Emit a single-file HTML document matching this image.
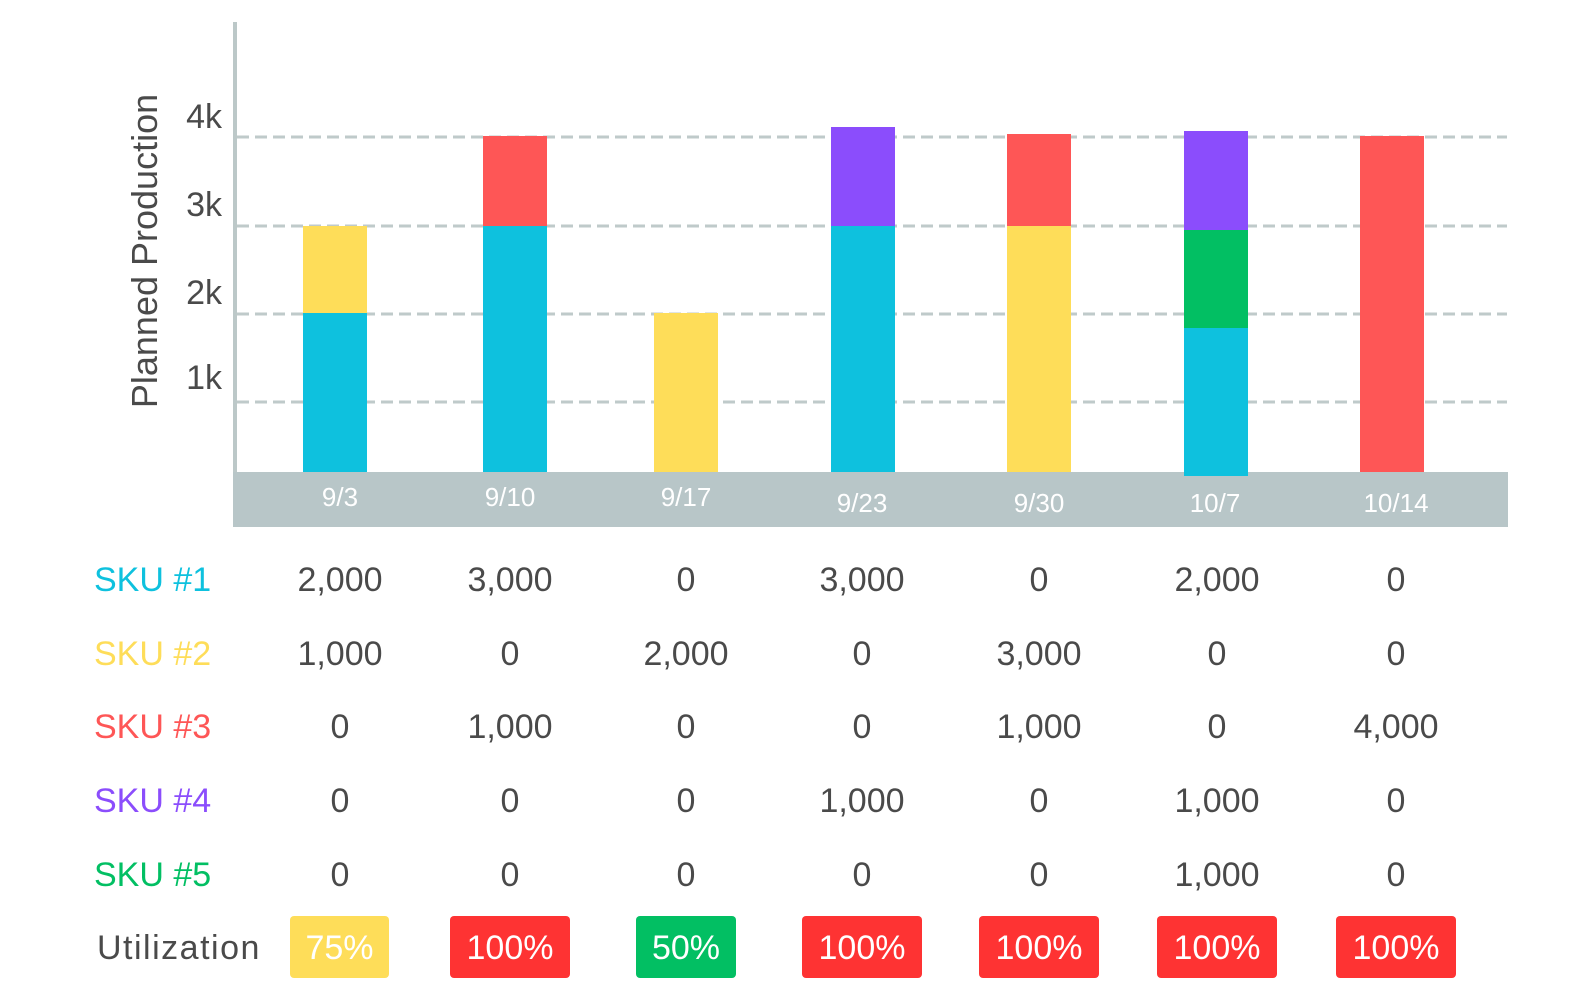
<!DOCTYPE html><html><head><style>
body{margin:0;width:1570px;height:992px;background:#fff;font-family:"Liberation Sans",sans-serif;position:relative;overflow:hidden}
div{position:absolute}
.t{color:#4a4a4a;font-size:34px;transform:translateX(-50%);white-space:nowrap}
.yl{color:#4a4a4a;font-size:34px;right:1348px}
.x{color:#fff;font-size:26px;top:482px;transform:translateX(-50%)}
.b{width:64px}
.s{font-size:34px;left:94px}
.u{height:62px;top:916px;border-radius:4px;color:#fff;font-size:34px;text-align:center;line-height:64px}
</style></head><body>
<div style="left:233px;top:22px;width:4px;height:452px;background:#bcc8c8"></div>
<svg style="position:absolute;left:0;top:0" width="1570" height="992"><g stroke="#bfcaca" stroke-width="3" stroke-dasharray="12 6">
<line x1="237" y1="402" x2="1507" y2="402"/><line x1="237" y1="314" x2="1507" y2="314"/><line x1="237" y1="226" x2="1507" y2="226"/><line x1="237" y1="137" x2="1507" y2="137"/></g></svg>
<div class="yl" style="top:359px">1k</div><div class="yl" style="top:274px">2k</div><div class="yl" style="top:186px">3k</div><div class="yl" style="top:98px">4k</div>
<div style="left:145px;top:251px;transform:translate(-50%,-50%) rotate(-90deg);font-size:36px;color:#4a4a4a;white-space:nowrap">Planned Production</div>
<div style="left:233px;top:472px;width:1275px;height:55px;background:#b8c6c8"></div>
<div class="b" style="left:303px;top:226px;height:88px;background:#fedd59"></div><div class="b" style="left:303px;top:313px;height:159px;background:#0ec1de"></div>
<div class="b" style="left:483px;top:136px;height:90px;background:#fe5656"></div><div class="b" style="left:483px;top:226px;height:246px;background:#0ec1de"></div>
<div class="b" style="left:654px;top:313px;height:159px;background:#fedd59"></div>
<div class="b" style="left:831px;top:127px;height:99px;background:#8b4dfc"></div><div class="b" style="left:831px;top:226px;height:246px;background:#0ec1de"></div>
<div class="b" style="left:1007px;top:134px;height:92px;background:#fe5656"></div><div class="b" style="left:1007px;top:226px;height:246px;background:#fedd59"></div>
<div class="b" style="left:1184px;top:131px;height:99px;background:#8b4dfc"></div><div class="b" style="left:1184px;top:230px;height:98px;background:#02bf63"></div><div class="b" style="left:1184px;top:328px;height:148px;background:#0ec1de"></div>
<div class="b" style="left:1360px;top:136px;height:336px;background:#fe5656"></div>
<div class="x" style="left:340px">9/3</div><div class="x" style="left:510px">9/10</div><div class="x" style="left:686px">9/17</div><div class="x" style="left:862px;top:488px">9/23</div><div class="x" style="left:1039px;top:488px">9/30</div><div class="x" style="left:1215px;top:488px">10/7</div><div class="x" style="left:1396px;top:488px">10/14</div>
<div class="s" style="top:561px;color:#0ec1de">SKU #1</div>
<div class="s" style="top:635px;color:#fedd59">SKU #2</div>
<div class="s" style="top:708px;color:#fe5656">SKU #3</div>
<div class="s" style="top:782px;color:#8b4dfc">SKU #4</div>
<div class="s" style="top:856px;color:#02bf63">SKU #5</div>
<div class="s" style="top:929px;color:#4a4a4a;left:97px;letter-spacing:1.5px">Utilization</div>
<div class="t" style="left:340px;top:561px">2,000</div><div class="t" style="left:510px;top:561px">3,000</div><div class="t" style="left:686px;top:561px">0</div><div class="t" style="left:862px;top:561px">3,000</div><div class="t" style="left:1039px;top:561px">0</div><div class="t" style="left:1217px;top:561px">2,000</div><div class="t" style="left:1396px;top:561px">0</div>
<div class="t" style="left:340px;top:635px">1,000</div><div class="t" style="left:510px;top:635px">0</div><div class="t" style="left:686px;top:635px">2,000</div><div class="t" style="left:862px;top:635px">0</div><div class="t" style="left:1039px;top:635px">3,000</div><div class="t" style="left:1217px;top:635px">0</div><div class="t" style="left:1396px;top:635px">0</div>
<div class="t" style="left:340px;top:708px">0</div><div class="t" style="left:510px;top:708px">1,000</div><div class="t" style="left:686px;top:708px">0</div><div class="t" style="left:862px;top:708px">0</div><div class="t" style="left:1039px;top:708px">1,000</div><div class="t" style="left:1217px;top:708px">0</div><div class="t" style="left:1396px;top:708px">4,000</div>
<div class="t" style="left:340px;top:782px">0</div><div class="t" style="left:510px;top:782px">0</div><div class="t" style="left:686px;top:782px">0</div><div class="t" style="left:862px;top:782px">1,000</div><div class="t" style="left:1039px;top:782px">0</div><div class="t" style="left:1217px;top:782px">1,000</div><div class="t" style="left:1396px;top:782px">0</div>
<div class="t" style="left:340px;top:856px">0</div><div class="t" style="left:510px;top:856px">0</div><div class="t" style="left:686px;top:856px">0</div><div class="t" style="left:862px;top:856px">0</div><div class="t" style="left:1039px;top:856px">0</div><div class="t" style="left:1217px;top:856px">1,000</div><div class="t" style="left:1396px;top:856px">0</div>
<div class="u" style="left:290px;width:99px;background:#fedd59">75%</div>
<div class="u" style="left:450px;width:120px;background:#fe3333">100%</div>
<div class="u" style="left:636px;width:100px;background:#02bf63">50%</div>
<div class="u" style="left:802px;width:120px;background:#fe3333">100%</div>
<div class="u" style="left:979px;width:120px;background:#fe3333">100%</div>
<div class="u" style="left:1157px;width:120px;background:#fe3333">100%</div>
<div class="u" style="left:1336px;width:120px;background:#fe3333">100%</div>
</body></html>
